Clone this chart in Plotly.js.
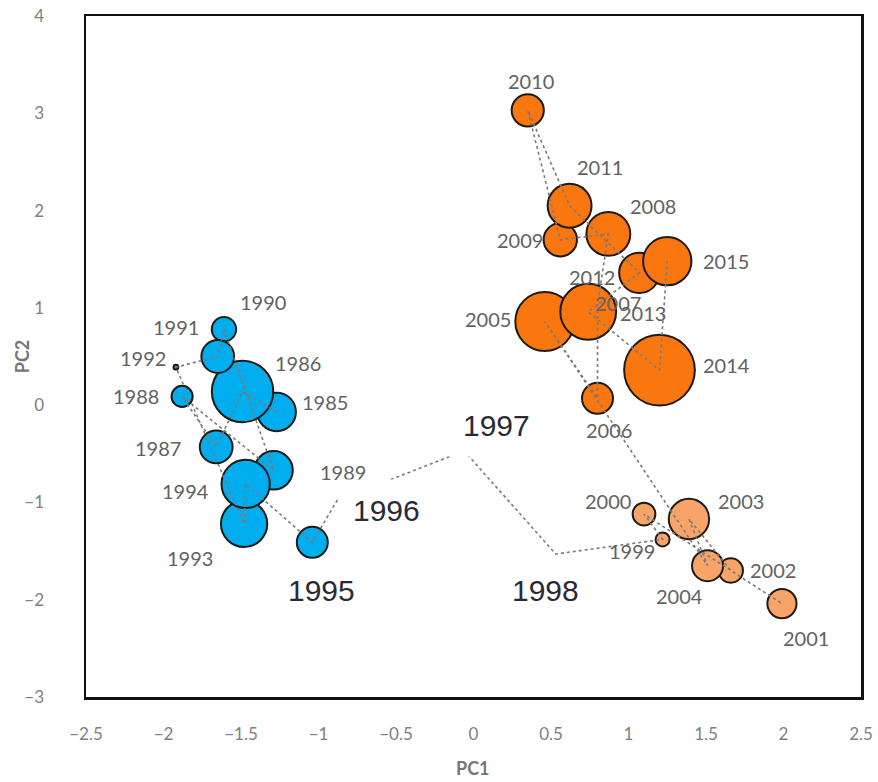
<!DOCTYPE html>
<html><head><meta charset="utf-8">
<script src="https://cdn.plot.ly/plotly-3.0.1.min.js"></script>
<style>html,body{margin:0;padding:0;background:#fff}#chart{width:878px;height:782px}</style>
</head><body><div id="chart"></div>
<script>
// ---- data ----
const years = [1985,1986,1987,1988,1989,1990,1991,1992,1993,1994,1995,1996,1997,1998,
  1999,2000,2001,2002,2003,2004,2005,2006,2007,2008,2009,2010,2011,2012,2013,2014,2015];
const pc1 = [-1.27,-1.49,-1.66,-1.88,-1.29,-1.61,-1.65,-1.92,-1.48,-1.47,-1.04,-0.88,-0.06,0.53,
  1.22,1.10,1.99,1.66,1.39,1.51,0.46,0.80,0.80,0.87,0.56,0.35,0.62,1.07,0.74,1.20,1.25];
const pc2 = [-0.07,0.14,-0.43,0.09,-0.67,0.78,0.50,0.39,-1.22,-0.81,-1.41,-0.98,-0.47,-1.53,
  -1.38,-1.12,-2.04,-1.70,-1.17,-1.65,0.86,0.07,1.03,1.76,1.70,3.03,2.05,1.36,0.96,0.36,1.48];
const bubbleSize = [4.0,10.2,2.9,1.2,4.0,1.6,2.9,0.06,5.8,6.3,2.6,0,0,0,
  0.53,1.4,2.3,1.6,4.4,2.6,9.4,2.6,2.3,5.2,3.0,2.8,5.2,4.4,8.4,13.5,6.3];
const period = ['A','A','A','A','A','A','A','A','A','A','A','T','T','T',
  'B','B','B','B','B','B','C','C','C','C','C','C','C','C','C','C','C'];
const highlightYears = [1995,1996,1997,1998];
const xTickVals = [-2.5,-2,-1.5,-1,-0.5,0,0.5,1,1.5,2,2.5];
const yTickVals = [-3,-2,-1,0,1,2,3,4];
const xTitle = 'PC1';
const yTitle = 'PC2';

// ---- styles / label placement (pixels) ----
const periodColor = {A:'#00AEEF', B:'#F8A468', C:'#FA760E'};
const labelDx = [48,55,-58,-46,69,39,-42,-33,-54,-60,9,49,32,-10,
  -31,-36,24,42,52,-28,-57,11,20,45,-40,3,30,-47,55,67,59];
const labelDy = [-10,-29,1,0,2,-27,-30,-9,34,7,48,10,-25,37,
  12,-13,34,-1,-18,30,-2,32,-2,-28,0,-29,-39,4,1,-5,0];

const traces = [];
['A','B','C'].forEach(p => {
  const idx = years.map((y,i)=>i).filter(i => period[i] === p);
  traces.push({
    type:'scatter', mode:'markers',
    x: idx.map(i=>pc1[i]), y: idx.map(i=>pc2[i]),
    marker:{size: idx.map(i=>bubbleSize[i]), sizemode:'area', sizeref:0.0054,
      color: periodColor[p], opacity:1, line:{color:'#1e1a16', width:2}},
    hoverinfo:'skip', showlegend:false
  });
});
traces.push({
  type:'scatter', mode:'lines', x: pc1, y: pc2,
  line:{color:'#7a7a7a', width:1.6, dash:'dot'},
  hoverinfo:'skip', showlegend:false
});

const annotations = years.map((yr,i) => {
  const big = highlightYears.includes(yr);
  return {
    x: pc1[i], y: pc2[i], xref:'x', yref:'y', text: String(yr),
    showarrow:true, arrowcolor:'rgba(0,0,0,0)', ax: labelDx[i], ay: labelDy[i],
    font: big ? {family:'Liberation Sans, Arial, sans-serif', size:30, color:'#2a2a36'}
              : {family:'Lato, sans-serif', size:20, color:'#626262'},
    bgcolor: big ? '#ffffff' : 'rgba(0,0,0,0)',
    borderpad: big ? 14 : 0
  };
});
annotations.push({xref:'paper', yref:'paper', x:0.499, y:-0.104, xanchor:'center', yanchor:'middle',
  text:'<b>'+xTitle+'</b>', showarrow:false, font:{family:'Lato, sans-serif', size:18, color:'#767676'}});
annotations.push({xref:'paper', yref:'paper', x:-0.083, y:0.5, xanchor:'center', yanchor:'middle',
  text:'<b>'+yTitle+'</b>', textangle:-90, showarrow:false, font:{family:'Lato, sans-serif', size:18, color:'#767676'}});

const layout = {
  width:878, height:782,
  margin:{l:86, r:17, t:16, b:85},
  paper_bgcolor:'#fff', plot_bgcolor:'#fff',
  font:{family:'Lato, sans-serif', color:'#808080'},
  xaxis:{range:[-2.5,2.5], tickvals:xTickVals,
    showgrid:false, zeroline:false, showline:true, mirror:true, linecolor:'#111', linewidth:2.5,
    ticks:'', tickfont:{size:17, color:'#808080'}, ticklabelstandoff:20},
  yaxis:{range:[-3,4], tickvals:yTickVals,
    showgrid:false, zeroline:false, showline:true, mirror:true, linecolor:'#111', linewidth:2.5,
    ticks:'', tickfont:{size:17, color:'#808080'}, ticklabelstandoff:36},
  annotations: annotations
};
Plotly.newPlot('chart', traces, layout, {staticPlot:true, displayModeBar:false});
</script></body></html>
